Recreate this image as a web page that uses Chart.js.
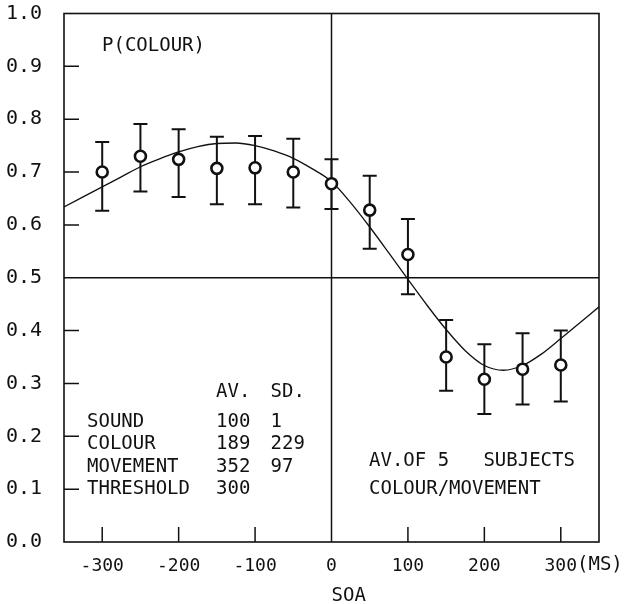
<!DOCTYPE html>
<html>
<head>
<meta charset="utf-8">
<script src="https://cdn.jsdelivr.net/npm/chart.js@4.4.0/dist/chart.umd.min.js"></script>
<style>
html,body{margin:0;padding:0;background:#fff;}
#wrap{width:629px;height:604px;position:relative;}
</style>
</head>
<body>
<div id="wrap"><canvas id="c"></canvas></div>
<script>
// ---- data ----
const soa = [-300,-250,-200,-150,-100,-50,0,50,100,150,200,250,300];
const pColour = [0.700,0.730,0.724,0.707,0.708,0.700,0.678,0.628,0.544,0.350,0.308,0.327,0.335];
const errHigh = [0.757,0.791,0.781,0.767,0.768,0.763,0.724,0.693,0.611,0.420,0.374,0.395,0.400];
const errLow  = [0.627,0.663,0.653,0.639,0.639,0.633,0.630,0.555,0.469,0.286,0.242,0.260,0.266];
const curveX = [-350,-325,-300,-275,-250,-225,-200,-175,-150,-125,-100,-75,-50,-25,0,25,50,75,100,125,150,175,200,225,250,275,300,325,350];
const curveY = [0.634,0.653,0.672,0.691,0.710,0.725,0.738,0.748,0.754,0.755,0.750,0.740,0.726,0.706,0.682,0.642,0.596,0.547,0.497,0.448,0.402,0.362,0.334,0.325,0.334,0.356,0.385,0.415,0.445];
const xTicks = [-300,-200,-100,0,100,200,300];
const yTicks = [0,0.1,0.2,0.3,0.4,0.5,0.6,0.7,0.8,0.9,1.0];
const tableRows = ['SOUND','COLOUR','MOVEMENT','THRESHOLD'];
const tableAv = ['100','189','352','300'];
const tableSd = ['1','229','97',''];

const FONT = "'DejaVu Sans Mono', monospace";
const INK = '#111';

const decor = {
  id:'decor',
  beforeDatasetsDraw(chart){
    const ctx = chart.ctx, a = chart.chartArea;
    const xs = chart.scales.x, ys = chart.scales.y;
    ctx.save();
    ctx.strokeStyle = INK;
    ctx.lineWidth = 1.5;
    ctx.beginPath();
    const x0 = xs.getPixelForValue(0), yh = ys.getPixelForValue(0.5);
    ctx.moveTo(x0, a.top); ctx.lineTo(x0, a.bottom);
    ctx.moveTo(a.left, yh); ctx.lineTo(a.right, yh);
    ctx.stroke();
    ctx.beginPath();
    xTicks.forEach(v=>{ if(v===0) return; const p = xs.getPixelForValue(v); ctx.moveTo(p,a.bottom); ctx.lineTo(p,a.bottom-15); });
    yTicks.forEach(v=>{ if(v===0||v===1||v===0.5) return; const p = ys.getPixelForValue(v); ctx.moveTo(a.left,p); ctx.lineTo(a.left+15,p); });
    ctx.stroke();
    ctx.lineWidth = 1.6;
    ctx.strokeRect(a.left, a.top, a.right-a.left, a.bottom-a.top);
    ctx.lineWidth = 2;
    ctx.beginPath();
    soa.forEach((v,i)=>{
      const px = xs.getPixelForValue(v);
      const ph = ys.getPixelForValue(errHigh[i]), pl = ys.getPixelForValue(errLow[i]);
      ctx.moveTo(px,ph); ctx.lineTo(px,pl);
      ctx.moveTo(px-7,ph); ctx.lineTo(px+7,ph);
      ctx.moveTo(px-7,pl); ctx.lineTo(px+7,pl);
    });
    ctx.stroke();
    ctx.restore();
  },
  afterDraw(chart){
    const ctx = chart.ctx;
    ctx.save();
    ctx.fillStyle = INK;
    ctx.font = "19px " + FONT;
    ctx.textBaseline = 'middle';
    ctx.textAlign = 'left';
    ctx.fillText('P(COLOUR)', 102, 46);
    ctx.fillText('AV.', 216, 392);
    ctx.fillText('SD.', 270.5, 392);
    const rowY = [422, 444.5, 467, 489.5];
    tableRows.forEach((r,i)=>{
      ctx.fillText(r, 87, rowY[i]);
      ctx.fillText(tableAv[i], 216, rowY[i]);
      if(tableSd[i]) ctx.fillText(tableSd[i], 270.5, rowY[i]);
    });
    ctx.fillText('AV.OF 5   SUBJECTS', 369, 461);
    ctx.fillText('COLOUR/MOVEMENT', 369, 489.5);
    ctx.fillText('(MS)', 577, 565);
    ctx.fillText('SOA', chart.scales.x.getPixelForValue(0), 596);
    ctx.restore();
  }
};

new Chart(document.getElementById('c'), {
  type:'scatter',
  data:{
    datasets:[
      {
        type:'line',
        data: curveX.map((x,i)=>({x, y:curveY[i]})),
        borderColor: INK, borderWidth:1.3, pointRadius:0, fill:false,
        cubicInterpolationMode:'monotone', order:2
      },
      {
        data: soa.map((x,i)=>({x, y:pColour[i]})),
        pointStyle:'circle', pointRadius:5.5, pointHoverRadius:5.5,
        pointBorderWidth:2.6, borderColor: INK, backgroundColor:'#fff', order:1
      }
    ]
  },
  options:{
    responsive:true, maintainAspectRatio:false, animation:false,
    layout:{padding:{left:0, top:13.5, right:30, bottom:0}},
    plugins:{legend:{display:false}, tooltip:{enabled:false}},
    scales:{
      x:{
        type:'linear', min:-350, max:350,
        afterBuildTicks: s => { s.ticks = xTicks.map(v=>({value:v})); },
        afterFit: s => { s.height = 62; s.paddingLeft = 0; s.paddingRight = 0; },
        grid:{display:false, drawTicks:false},
        border:{display:false},
        ticks:{color:INK, font:{family:FONT, size:18}, padding:14, maxRotation:0, autoSkip:false, callback:v=>String(v)}
      },
      y:{
        min:0, max:1,
        afterBuildTicks: s => { s.ticks = yTicks.map(v=>({value:v})); },
        afterFit: s => { s.width = 64; s.paddingTop = 0; s.paddingBottom = 0; },
        grid:{display:false, drawTicks:false},
        border:{display:false},
        ticks:{color:INK, font:{family:FONT, size:20}, padding:22, autoSkip:false, callback:v=>Number(v).toFixed(1)}
      }
    }
  },
  plugins:[decor]
});
</script>
</body>
</html>
